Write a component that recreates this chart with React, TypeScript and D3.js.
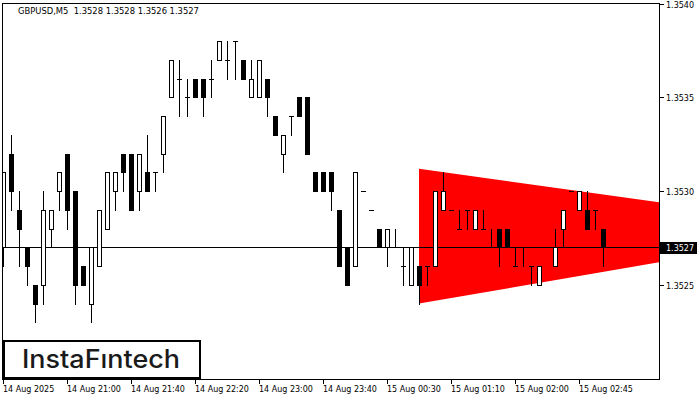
import React, { useEffect, useRef } from 'react';
import * as d3 from 'd3';

// GBPUSD M5 candles
const opens = [
  1.3527, 1.3532, 1.3529, 1.3527, 1.3525, 1.3525, 1.3528, 1.3530, 1.3532, 1.3530,
  1.3526, 1.3524, 1.3526, 1.3528, 1.3530, 1.3532, 1.3532, 1.3530, 1.3531, 1.3531,
  1.3532, 1.3535, 1.3536, 1.3535, 1.3536, 1.3536, 1.3536, 1.3537, 1.3537, 1.3538,
  1.3537, 1.3535, 1.3535, 1.3536, 1.3534, 1.3532, 1.3534, 1.3535, 1.3535, 1.3531,
  1.3531, 1.3531, 1.3529, 1.3527, 1.3526, 1.3530, 1.3529, 1.3528, 1.3527, 1.3527,
  1.3526, 1.3525, 1.3526, 1.3526, 1.3526, 1.3529, 1.3529, 1.3528, 1.3529, 1.3528,
  1.3528, 1.3527, 1.3528, 1.3528, 1.3526, 1.3527, 1.3526, 1.3525, 1.3527, 1.3526,
  1.3528, 1.3530, 1.3529, 1.3529, 1.3529, 1.3528,
];
const highs = [
  1.3531, 1.3533, 1.3530, 1.3527, 1.3525, 1.3530, 1.3529, 1.3531, 1.3532, 1.3530,
  1.3526, 1.3527, 1.3529, 1.3531, 1.3531, 1.3532, 1.3532, 1.3532, 1.3533, 1.3531,
  1.3534, 1.3537, 1.3537, 1.3536, 1.3536, 1.3536, 1.3537, 1.3538, 1.3538, 1.3538,
  1.3537, 1.3537, 1.3537, 1.3536, 1.3534, 1.3533, 1.3534, 1.3535, 1.3535, 1.3531,
  1.3531, 1.3531, 1.3529, 1.3527, 1.3531, 1.3530, 1.3529, 1.3528, 1.3528, 1.3528,
  1.3527, 1.3527, 1.3526, 1.3526, 1.3530, 1.3531, 1.3529, 1.3529, 1.3529, 1.3529,
  1.3529, 1.3528, 1.3528, 1.3528, 1.3527, 1.3527, 1.3526, 1.3526, 1.3527, 1.3528,
  1.3529, 1.3530, 1.3530, 1.3530, 1.3529, 1.3528,
];
const lows = [
  1.3526, 1.3529, 1.3526, 1.3525, 1.3523, 1.3524, 1.3527, 1.3529, 1.3528, 1.3524,
  1.3525, 1.3523, 1.3526, 1.3528, 1.3529, 1.3530, 1.3529, 1.3529, 1.3530, 1.3530,
  1.3531, 1.3535, 1.3534, 1.3534, 1.3535, 1.3534, 1.3535, 1.3537, 1.3536, 1.3536,
  1.3536, 1.3535, 1.3535, 1.3534, 1.3533, 1.3531, 1.3533, 1.3534, 1.3532, 1.3530,
  1.3530, 1.3529, 1.3526, 1.3525, 1.3526, 1.3530, 1.3529, 1.3527, 1.3526, 1.3527,
  1.3525, 1.3525, 1.3524, 1.3525, 1.3526, 1.3529, 1.3529, 1.3528, 1.3528, 1.3528,
  1.3528, 1.3527, 1.3526, 1.3527, 1.3526, 1.3526, 1.3525, 1.3525, 1.3527, 1.3526,
  1.3527, 1.3530, 1.3529, 1.3528, 1.3528, 1.3526,
];
const closes = [
  1.3531, 1.3530, 1.3528, 1.3526, 1.3524, 1.3529, 1.3529, 1.3531, 1.3529, 1.3525,
  1.3525, 1.3527, 1.3529, 1.3531, 1.3531, 1.3531, 1.3529, 1.3532, 1.3530, 1.3531,
  1.3534, 1.3537, 1.3536, 1.3535, 1.3535, 1.3535, 1.3536, 1.3538, 1.3537, 1.3538,
  1.3536, 1.3536, 1.3537, 1.3535, 1.3533, 1.3533, 1.3534, 1.3534, 1.3532, 1.3530,
  1.3530, 1.3530, 1.3526, 1.3525, 1.3531, 1.3530, 1.3529, 1.3527, 1.3528, 1.3527,
  1.3526, 1.3527, 1.3525, 1.3526, 1.3530, 1.3530, 1.3529, 1.3528, 1.3529, 1.3529,
  1.3528, 1.3527, 1.3527, 1.3527, 1.3526, 1.3527, 1.3526, 1.3526, 1.3527, 1.3527,
  1.3529, 1.3530, 1.3530, 1.3528, 1.3529, 1.3527,
];

// bar index -> time label
const timeTickIdx = [0, 8, 16, 24, 32, 40, 48, 56, 64, 72];
const timeTickLabels = [
  '14 Aug 2025', '14 Aug 21:00', '14 Aug 21:40', '14 Aug 22:20', '14 Aug 23:00',
  '14 Aug 23:40', '15 Aug 00:30', '15 Aug 01:10', '15 Aug 02:00', '15 Aug 02:45',
];
const priceTicks = [1.354, 1.3535, 1.353, 1.3525];

// bearish symmetrical triangle (bar index, upper and lower price)
const triIdx = [52, 82];
const triUpper = [1.35312, 1.35294];
const triLower = [1.3524, 1.35262];

const lastPrice = 1.3527;
const header = 'GBPUSD,M5  1.3528 1.3528 1.3526 1.3527';

export default function App() {
  const svgRef = useRef<SVGSVGElement>(null);

  useEffect(() => {
    if (!svgRef.current) return;
    const width = 700;
    const height = 400;
    const plot = { left: 3, top: 3, right: 659, bottom: 379 };
    const font = 'DejaVu Sans, Verdana, sans-serif';

    const svg = d3.select(svgRef.current);
    svg.selectAll('*').remove();
    svg.attr('width', width).attr('height', height);

    svg.append('rect').attr('width', width).attr('height', height).attr('fill', '#fff');

    const x = d3.scaleLinear().domain([0, 75]).range([3, 603]);
    const y = d3.scaleLinear().domain([1.3525, 1.354]).range([284.8, 3.8]);
    const row = (p: number) => Math.round(y(p));

    svg.append('clipPath').attr('id', 'plot-clip')
      .append('rect')
      .attr('x', plot.left).attr('y', plot.top)
      .attr('width', plot.right - plot.left).attr('height', plot.bottom - plot.top);

    const g = svg.append('g').attr('clip-path', 'url(#plot-clip)');

    // triangle pattern
    const triData = triIdx.map((d, i) => ({ i: d, hi: triUpper[i], lo: triLower[i] }));
    const area = d3.area<{ i: number; hi: number; lo: number }>()
      .x(d => x(d.i))
      .y0(d => y(d.lo))
      .y1(d => y(d.hi));
    g.append('path').datum(triData).attr('d', area).attr('fill', '#ff0000');

    // current price line
    const lpRow = row(lastPrice);
    g.append('line')
      .attr('x1', plot.left).attr('x2', plot.right)
      .attr('y1', lpRow + 0.5).attr('y2', lpRow + 0.5)
      .attr('stroke', '#000').attr('stroke-width', 1);

    // candles
    opens.forEach((o, i) => {
      const c = closes[i];
      const px = Math.round(x(i));
      const hRow = row(highs[i]);
      const lRow = row(lows[i]);
      if (lRow > hRow) {
        g.append('line')
          .attr('x1', px + 0.5).attr('x2', px + 0.5)
          .attr('y1', hRow).attr('y2', lRow + 1)
          .attr('stroke', '#000').attr('stroke-width', 1);
      }
      const top = row(Math.max(o, c));
      const bot = row(Math.min(o, c));
      if (o === c) {
        g.append('line')
          .attr('x1', px - 2).attr('x2', px + 3)
          .attr('y1', top + 0.5).attr('y2', top + 0.5)
          .attr('stroke', '#000').attr('stroke-width', 1);
      } else if (c < o) {
        g.append('rect')
          .attr('x', px - 2).attr('y', top)
          .attr('width', 5).attr('height', bot - top + 1)
          .attr('fill', '#000');
      } else {
        g.append('rect')
          .attr('x', px - 1.5).attr('y', top + 0.5)
          .attr('width', 4).attr('height', bot - top)
          .attr('fill', '#fff').attr('stroke', '#000').attr('stroke-width', 1);
      }
    });

    // frame
    svg.append('rect')
      .attr('x', plot.left - 0.5).attr('y', plot.top + 0.5)
      .attr('width', plot.right - plot.left + 1).attr('height', plot.bottom - plot.top)
      .attr('fill', 'none').attr('stroke', '#000').attr('stroke-width', 1);

    // right price axis
    priceTicks.forEach(p => {
      const r = row(p);
      svg.append('line')
        .attr('x1', plot.right + 1).attr('x2', plot.right + 5)
        .attr('y1', r + 0.5).attr('y2', r + 0.5)
        .attr('stroke', '#000');
      svg.append('text')
        .attr('x', 666).attr('y', r + 3.5)
        .attr('font-family', font).attr('font-size', 8)
        .attr('fill', '#000')
        .text(p.toFixed(4));
    });

    svg.append('rect')
      .attr('x', plot.right + 1).attr('y', lpRow - 5)
      .attr('width', 37).attr('height', 12)
      .attr('fill', '#000');
    svg.append('text')
      .attr('x', 666).attr('y', lpRow + 4)
      .attr('font-family', font).attr('font-size', 8)
      .attr('fill', '#fff')
      .text(lastPrice.toFixed(4));

    // time axis
    timeTickIdx.forEach((idx, k) => {
      const px = Math.round(x(idx));
      svg.append('line')
        .attr('x1', px + 0.5).attr('x2', px + 0.5)
        .attr('y1', plot.bottom + 1).attr('y2', plot.bottom + 5)
        .attr('stroke', '#000');
      svg.append('text')
        .attr('x', px).attr('y', 392)
        .attr('font-family', font).attr('font-size', 8)
        .attr('fill', '#000')
        .text(timeTickLabels[k]);
    });

    // header
    svg.append('text')
      .attr('x', 18).attr('y', 14)
      .attr('font-family', font).attr('font-size', 8.4)
      .attr('fill', '#000')
      .attr('xml:space', 'preserve')
      .style('white-space', 'pre')
      .text(header);

    // logo box
    svg.append('rect')
      .attr('x', 4).attr('y', 341)
      .attr('width', 196).attr('height', 37)
      .attr('fill', '#fff').attr('stroke', '#000').attr('stroke-width', 2);
    svg.append('text')
      .attr('x', 22).attr('y', 368)
      .attr('font-family', 'Inter, Roboto, sans-serif').attr('font-size', 25)
      .attr('font-weight', 500)
      .attr('fill', '#1a1a1a')
      .attr('textLength', 158).attr('lengthAdjust', 'spacingAndGlyphs')
      .text('InstaFıntech');
  }, []);

  return (
    <div style={{ position: 'absolute', left: 0, top: 0 }}>
      <svg ref={svgRef} style={{ display: 'block' }}></svg>
    </div>
  );
}
